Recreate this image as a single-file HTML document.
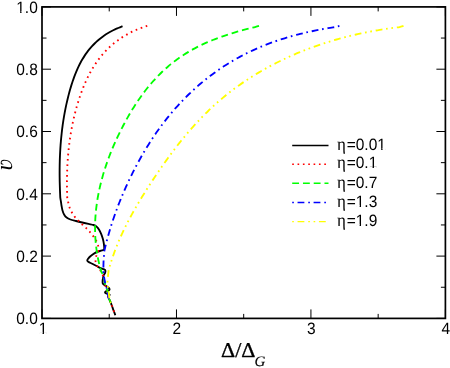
<!DOCTYPE html>
<html><head><meta charset="utf-8"><title>chart</title>
<style>html,body{margin:0;padding:0;background:#fff;width:450px;height:368px;overflow:hidden}</style>
</head><body>
<svg width="450" height="368" viewBox="0 0 450 368" text-rendering="geometricPrecision" style="position:absolute;left:0;top:0;will-change:transform">
<rect x="0" y="0" width="450" height="368" fill="#fff"/>
<path d="M122.50 26.10 C121.90 26.37 120.13 27.19 118.89 27.74 C117.65 28.29 116.30 28.80 115.04 29.39 C113.77 29.97 112.53 30.59 111.31 31.24 C110.10 31.89 108.90 32.57 107.73 33.29 C106.56 34.00 105.41 34.75 104.29 35.52 C103.17 36.29 102.07 37.10 101.00 37.93 C99.93 38.76 98.88 39.62 97.86 40.51 C96.84 41.40 95.85 42.31 94.89 43.25 C93.92 44.19 92.98 45.15 92.08 46.14 C91.17 47.13 90.29 48.14 89.44 49.17 C88.59 50.20 87.77 51.26 86.97 52.34 C86.18 53.41 85.42 54.51 84.69 55.62 C83.95 56.74 83.24 57.88 82.56 59.03 C81.87 60.18 81.22 61.35 80.58 62.53 C79.95 63.71 79.34 64.91 78.75 66.12 C78.17 67.34 77.60 68.56 77.06 69.80 C76.51 71.04 75.99 72.29 75.48 73.55 C74.98 74.81 74.49 76.08 74.03 77.36 C73.56 78.64 73.11 79.92 72.67 81.22 C72.24 82.51 71.82 83.81 71.41 85.12 C71.01 86.42 70.62 87.73 70.24 89.04 C69.86 90.36 69.49 91.67 69.14 92.99 C68.78 94.31 68.44 95.63 68.11 96.95 C67.78 98.27 67.46 99.60 67.15 100.92 C66.84 102.25 66.54 103.57 66.25 104.90 C65.96 106.23 65.69 107.56 65.42 108.89 C65.15 110.23 64.90 111.56 64.65 112.90 C64.40 114.23 64.17 115.57 63.94 116.91 C63.72 118.24 63.50 119.58 63.29 120.93 C63.09 122.27 62.89 123.61 62.70 124.95 C62.52 126.29 62.34 127.64 62.17 128.98 C62.00 130.33 61.84 131.68 61.69 133.02 C61.54 134.37 61.40 135.72 61.27 137.07 C61.14 138.42 61.01 139.77 60.90 141.12 C60.78 142.47 60.67 143.82 60.57 145.17 C60.48 146.52 60.39 147.87 60.30 149.23 C60.22 150.58 60.15 151.93 60.08 153.29 C60.01 154.64 59.95 156.00 59.90 157.35 C59.85 158.70 59.80 160.06 59.77 161.41 C59.73 162.77 59.70 164.12 59.68 165.48 C59.65 166.83 59.64 168.19 59.63 169.54 C59.62 170.90 59.61 172.25 59.62 173.61 C59.62 174.96 59.63 176.32 59.65 177.67 C59.66 179.03 59.69 180.38 59.71 181.73 C59.74 183.09 59.78 184.44 59.82 185.79 C59.86 187.15 59.90 188.50 59.95 189.85 C60.00 191.20 60.06 192.55 60.12 193.90 C60.18 195.25 60.18 196.60 60.32 197.95 C60.47 199.30 60.79 200.66 61.00 202.00 C61.21 203.34 61.35 204.60 61.60 206.00 C61.85 207.40 62.08 208.98 62.50 210.40 C62.92 211.82 63.42 213.30 64.10 214.50 C64.78 215.70 65.55 216.77 66.60 217.60 C67.65 218.43 68.83 218.93 70.40 219.50 C71.97 220.07 74.03 220.50 76.00 221.00 C77.97 221.50 80.17 222.02 82.25 222.50 C84.33 222.98 86.62 223.48 88.50 223.90 C90.38 224.32 92.15 224.55 93.50 225.00 C94.85 225.45 95.67 225.81 96.60 226.60 C97.53 227.39 98.32 228.50 99.10 229.75 C99.88 231.00 100.62 232.54 101.25 234.10 C101.88 235.66 102.46 237.43 102.90 239.10 C103.34 240.77 103.68 242.53 103.90 244.10 C104.12 245.67 104.25 247.52 104.25 248.50 C104.25 249.48 103.96 249.75 103.90 250.00 C103.21 250.17 101.28 250.48 99.75 251.00 C98.22 251.52 96.31 252.22 94.75 253.10 C93.19 253.97 91.54 255.27 90.40 256.25 C89.26 257.23 88.43 258.27 87.90 259.00 C87.38 259.73 87.15 260.12 87.25 260.60 C87.35 261.08 87.67 261.38 88.50 261.90 C89.33 262.42 90.90 263.07 92.25 263.75 C93.60 264.43 95.24 265.27 96.60 266.00 C97.96 266.73 99.15 267.53 100.40 268.10 C101.65 268.67 103.27 268.98 104.10 269.40 C104.93 269.82 105.25 269.98 105.40 270.60 C105.55 271.22 105.28 272.37 105.00 273.10 C104.72 273.83 104.10 274.06 103.75 275.00 C103.40 275.94 103.09 277.67 102.90 278.75 C102.71 279.83 102.60 280.67 102.60 281.50 C102.60 282.33 102.46 283.07 102.90 283.75 C103.34 284.43 104.33 284.98 105.25 285.60 C106.17 286.23 107.68 286.87 108.40 287.50 C109.12 288.13 109.60 288.88 109.60 289.40 C109.60 289.92 109.02 290.29 108.40 290.60 C107.78 290.91 106.47 290.93 105.90 291.25 C105.33 291.57 104.80 292.08 105.00 292.50 C105.20 292.92 106.33 293.38 107.10 293.75 C107.87 294.12 109.28 294.44 109.60 294.75 C109.92 295.06 109.22 295.24 109.00 295.60 C108.78 295.96 108.20 296.17 108.30 296.90 C108.40 297.63 109.17 298.97 109.60 300.00 C110.03 301.03 110.48 302.06 110.90 303.10 C111.32 304.14 111.68 305.10 112.10 306.25 C112.52 307.40 112.98 308.86 113.40 310.00 C113.82 311.14 114.29 312.23 114.60 313.10 C114.91 313.98 115.14 314.89 115.25 315.25" fill="none" stroke="#000" stroke-width="1.85" stroke-linejoin="round"/>
<path d="M147.25 25.75 C146.65 25.99 144.92 26.73 143.67 27.19 C142.43 27.65 141.05 28.05 139.77 28.52 C138.48 28.99 137.21 29.49 135.95 30.02 C134.69 30.55 133.45 31.10 132.23 31.69 C131.00 32.27 129.79 32.88 128.60 33.51 C127.41 34.15 126.23 34.81 125.07 35.50 C123.91 36.18 122.77 36.89 121.65 37.63 C120.53 38.36 119.43 39.12 118.34 39.91 C117.26 40.69 116.19 41.50 115.15 42.32 C114.10 43.15 113.07 44.00 112.07 44.87 C111.06 45.74 110.07 46.63 109.11 47.55 C108.14 48.46 107.20 49.39 106.28 50.34 C105.36 51.30 104.46 52.27 103.58 53.26 C102.70 54.25 101.84 55.25 101.01 56.28 C100.18 57.30 99.37 58.35 98.58 59.41 C97.79 60.46 97.02 61.54 96.27 62.63 C95.52 63.72 94.79 64.82 94.09 65.94 C93.38 67.06 92.69 68.19 92.02 69.34 C91.35 70.48 90.70 71.64 90.07 72.81 C89.44 73.98 88.82 75.17 88.22 76.36 C87.63 77.55 87.05 78.75 86.49 79.97 C85.92 81.18 85.38 82.40 84.85 83.63 C84.31 84.86 83.80 86.10 83.30 87.34 C82.80 88.59 82.31 89.84 81.84 91.10 C81.37 92.36 80.92 93.62 80.47 94.89 C80.03 96.16 79.60 97.44 79.18 98.72 C78.76 100.00 78.36 101.28 77.97 102.56 C77.57 103.85 77.19 105.14 76.82 106.43 C76.46 107.72 76.10 109.01 75.75 110.31 C75.41 111.61 75.07 112.90 74.75 114.21 C74.43 115.51 74.11 116.81 73.81 118.12 C73.51 119.42 73.22 120.73 72.94 122.04 C72.66 123.35 72.40 124.67 72.14 125.98 C71.88 127.29 71.64 128.61 71.40 129.93 C71.16 131.25 70.94 132.57 70.72 133.89 C70.51 135.21 70.30 136.53 70.10 137.86 C69.91 139.18 69.72 140.51 69.55 141.83 C69.37 143.16 69.20 144.49 69.05 145.82 C68.89 147.15 68.74 148.48 68.61 149.81 C68.47 151.14 68.34 152.47 68.22 153.80 C68.10 155.13 67.99 156.46 67.89 157.80 C67.78 159.13 67.69 160.46 67.61 161.80 C67.52 163.13 67.45 164.47 67.38 165.80 C67.31 167.13 67.25 168.47 67.20 169.80 C67.15 171.14 67.11 172.47 67.07 173.80 C67.04 175.14 67.01 176.47 66.99 177.81 C66.97 179.14 66.96 180.47 66.96 181.80 C66.95 183.13 66.96 184.47 66.97 185.80 C66.98 187.13 67.00 188.46 67.02 189.78 C67.04 191.11 67.08 192.44 67.12 193.77 C67.15 195.09 67.09 196.41 67.25 197.74 C67.42 199.07 67.76 200.24 68.10 201.75 C68.44 203.26 68.73 205.12 69.30 206.80 C69.87 208.48 70.67 210.23 71.50 211.80 C72.33 213.37 73.18 214.82 74.25 216.20 C75.32 217.58 76.68 218.82 77.90 220.10 C79.12 221.38 80.32 222.67 81.60 223.90 C82.88 225.13 84.30 226.25 85.60 227.50 C86.90 228.75 88.18 230.05 89.40 231.40 C90.62 232.75 91.84 234.17 92.90 235.60 C93.96 237.03 94.92 238.47 95.75 240.00 C96.58 241.53 97.44 243.12 97.90 244.75 C98.36 246.38 98.72 248.04 98.50 249.75 C98.28 251.46 97.12 253.29 96.60 255.00 C96.08 256.71 95.33 258.23 95.40 260.00 C95.47 261.77 96.28 264.03 97.00 265.60 C97.72 267.17 98.83 267.93 99.75 269.40 C100.67 270.87 101.84 272.80 102.50 274.40 C103.16 276.00 103.28 277.33 103.70 279.00 C104.12 280.67 104.45 282.57 105.00 284.40 C105.55 286.23 106.45 287.98 107.00 290.00 C107.55 292.02 107.87 294.83 108.30 296.50 C108.73 298.17 109.17 298.90 109.60 300.00 C110.03 301.10 110.48 302.06 110.90 303.10 C111.32 304.14 111.68 305.10 112.10 306.25 C112.52 307.40 112.98 308.86 113.40 310.00 C113.82 311.14 114.29 312.23 114.60 313.10 C114.91 313.98 115.14 314.89 115.25 315.25" fill="none" stroke="#f00" stroke-width="1.85" stroke-linejoin="round" stroke-dasharray="1.657 3.689" stroke-dashoffset="0.00"/>
<path d="M259.00 25.90 C258.35 26.09 256.41 26.71 255.12 27.06 C253.83 27.40 252.57 27.67 251.28 27.98 C250.00 28.30 248.72 28.62 247.43 28.95 C246.14 29.28 244.85 29.62 243.56 29.96 C242.27 30.30 240.98 30.65 239.69 31.01 C238.40 31.37 237.10 31.74 235.81 32.12 C234.52 32.49 233.23 32.88 231.93 33.27 C230.64 33.67 229.35 34.07 228.06 34.49 C226.78 34.90 225.49 35.33 224.21 35.76 C222.92 36.20 221.64 36.64 220.36 37.10 C219.09 37.56 217.81 38.03 216.54 38.51 C215.27 38.99 214.01 39.48 212.75 39.99 C211.49 40.49 210.23 41.01 208.98 41.54 C207.74 42.07 206.49 42.62 205.26 43.18 C204.02 43.73 202.79 44.31 201.57 44.89 C200.34 45.48 199.13 46.08 197.92 46.69 C196.72 47.30 195.52 47.93 194.33 48.57 C193.14 49.21 191.96 49.87 190.78 50.54 C189.61 51.21 188.45 51.89 187.30 52.59 C186.15 53.29 185.01 54.00 183.88 54.72 C182.75 55.45 181.63 56.19 180.52 56.94 C179.41 57.70 178.32 58.47 177.23 59.25 C176.15 60.03 175.08 60.83 174.02 61.64 C172.96 62.45 171.92 63.28 170.89 64.12 C169.86 64.96 168.84 65.81 167.83 66.68 C166.83 67.54 165.83 68.42 164.85 69.32 C163.87 70.21 162.90 71.11 161.95 72.03 C160.99 72.95 160.04 73.88 159.11 74.82 C158.18 75.77 157.26 76.72 156.35 77.69 C155.44 78.65 154.54 79.63 153.65 80.62 C152.77 81.61 151.89 82.61 151.03 83.62 C150.16 84.63 149.31 85.65 148.47 86.68 C147.62 87.71 146.79 88.75 145.97 89.80 C145.15 90.85 144.34 91.91 143.54 92.98 C142.74 94.04 141.95 95.12 141.17 96.21 C140.39 97.30 139.62 98.39 138.86 99.49 C138.09 100.60 137.34 101.71 136.60 102.83 C135.86 103.95 135.13 105.08 134.41 106.21 C133.68 107.34 132.97 108.49 132.26 109.63 C131.56 110.78 130.86 111.94 130.18 113.10 C129.49 114.26 128.81 115.43 128.14 116.60 C127.47 117.77 126.81 118.95 126.16 120.14 C125.50 121.32 124.86 122.51 124.22 123.71 C123.58 124.90 122.95 126.10 122.33 127.31 C121.71 128.51 121.09 129.72 120.49 130.93 C119.88 132.14 119.28 133.36 118.69 134.58 C118.10 135.80 117.52 137.03 116.95 138.26 C116.37 139.49 115.81 140.72 115.25 141.96 C114.70 143.20 114.15 144.44 113.62 145.68 C113.08 146.93 112.55 148.18 112.03 149.43 C111.51 150.68 111.01 151.94 110.51 153.20 C110.01 154.46 109.52 155.72 109.04 156.98 C108.56 158.25 108.09 159.52 107.64 160.79 C107.18 162.06 106.73 163.34 106.30 164.61 C105.86 165.89 105.44 167.17 105.02 168.46 C104.61 169.74 104.21 171.02 103.81 172.31 C103.42 173.60 103.04 174.89 102.68 176.19 C102.31 177.48 101.95 178.78 101.61 180.08 C101.27 181.37 100.93 182.68 100.61 183.98 C100.30 185.28 99.99 186.59 99.70 187.89 C99.40 189.20 99.12 190.51 98.85 191.82 C98.59 193.13 98.33 194.44 98.09 195.76 C97.85 197.07 97.62 198.39 97.41 199.70 C97.20 201.02 97.00 202.34 96.81 203.66 C96.63 204.98 96.45 206.30 96.30 207.62 C96.14 208.95 96.00 210.27 95.87 211.60 C95.74 212.92 95.63 214.25 95.53 215.57 C95.43 216.90 95.35 218.23 95.28 219.56 C95.22 220.88 95.17 222.21 95.13 223.54 C95.09 224.87 95.07 226.20 95.07 227.53 C95.06 228.86 95.08 230.20 95.10 231.53 C95.13 232.86 95.18 234.19 95.24 235.52 C95.30 236.85 95.38 238.18 95.47 239.52 C95.57 240.85 95.68 242.18 95.81 243.51 C95.94 244.84 96.09 246.17 96.25 247.50 C96.41 248.83 96.60 250.16 96.80 251.49 C97.00 252.82 97.22 254.15 97.45 255.48 C97.69 256.81 97.94 258.14 98.22 259.47 C98.49 260.79 98.78 262.12 99.09 263.44 C99.40 264.77 99.73 266.09 100.08 267.42 C100.43 268.74 100.72 270.12 101.19 271.38 C101.66 272.65 102.20 272.73 102.90 275.00 C103.60 277.27 104.57 282.08 105.40 285.00 C106.23 287.92 107.42 290.58 107.90 292.50 C108.38 294.42 108.02 295.25 108.30 296.50 C108.58 297.75 109.17 298.90 109.60 300.00 C110.03 301.10 110.68 302.58 110.90 303.10" fill="none" stroke="#0f0" stroke-width="1.85" stroke-linejoin="round" stroke-dasharray="6.857 3.899" stroke-dashoffset="0.00"/>
<path d="M339.40 25.90 C338.76 26.08 336.86 26.71 335.57 26.99 C334.27 27.27 332.94 27.38 331.62 27.59 C330.31 27.79 329.00 28.01 327.68 28.23 C326.37 28.45 325.05 28.68 323.74 28.91 C322.42 29.15 321.11 29.39 319.79 29.64 C318.48 29.89 317.17 30.14 315.85 30.41 C314.54 30.67 313.23 30.94 311.92 31.22 C310.61 31.50 309.30 31.79 307.99 32.08 C306.68 32.38 305.37 32.68 304.06 32.99 C302.76 33.30 301.45 33.62 300.15 33.95 C298.85 34.27 297.55 34.61 296.25 34.95 C294.95 35.29 293.65 35.65 292.36 36.01 C291.07 36.37 289.78 36.73 288.49 37.11 C287.20 37.49 285.91 37.88 284.63 38.27 C283.34 38.67 282.06 39.07 280.79 39.48 C279.51 39.90 278.24 40.32 276.97 40.75 C275.70 41.18 274.43 41.62 273.17 42.07 C271.90 42.52 270.64 42.98 269.39 43.45 C268.13 43.92 266.88 44.40 265.64 44.88 C264.39 45.37 263.15 45.87 261.91 46.38 C260.67 46.89 259.44 47.40 258.21 47.93 C256.98 48.46 255.76 49.00 254.54 49.55 C253.32 50.09 252.11 50.65 250.90 51.22 C249.69 51.79 248.49 52.37 247.29 52.96 C246.10 53.55 244.91 54.15 243.72 54.76 C242.54 55.37 241.36 55.99 240.19 56.62 C239.01 57.26 237.85 57.90 236.68 58.55 C235.52 59.20 234.37 59.86 233.22 60.54 C232.07 61.21 230.93 61.89 229.79 62.58 C228.66 63.28 227.53 63.98 226.40 64.69 C225.28 65.40 224.16 66.12 223.05 66.85 C221.94 67.59 220.83 68.33 219.73 69.08 C218.64 69.83 217.55 70.59 216.46 71.36 C215.38 72.13 214.30 72.90 213.23 73.69 C212.15 74.48 211.09 75.28 210.03 76.08 C208.97 76.89 207.92 77.70 206.88 78.53 C205.83 79.35 204.80 80.18 203.76 81.02 C202.73 81.87 201.71 82.72 200.69 83.58 C199.68 84.43 198.67 85.30 197.67 86.18 C196.67 87.05 195.67 87.94 194.68 88.83 C193.70 89.72 192.72 90.62 191.74 91.53 C190.77 92.44 189.81 93.36 188.85 94.28 C187.89 95.21 186.94 96.14 186.00 97.08 C185.06 98.02 184.12 98.97 183.19 99.93 C182.27 100.89 181.35 101.85 180.43 102.82 C179.52 103.79 178.62 104.77 177.72 105.76 C176.83 106.75 175.94 107.74 175.06 108.74 C174.18 109.75 173.31 110.76 172.44 111.77 C171.58 112.79 170.72 113.81 169.87 114.84 C169.02 115.87 168.18 116.91 167.35 117.95 C166.51 118.99 165.69 120.04 164.87 121.10 C164.05 122.16 163.24 123.22 162.44 124.29 C161.63 125.36 160.84 126.43 160.05 127.51 C159.26 128.59 158.48 129.68 157.71 130.77 C156.93 131.86 156.17 132.96 155.41 134.06 C154.65 135.17 153.90 136.28 153.15 137.39 C152.41 138.51 151.67 139.63 150.95 140.75 C150.22 141.88 149.49 143.00 148.78 144.14 C148.06 145.27 147.36 146.41 146.66 147.56 C145.96 148.70 145.26 149.85 144.58 151.00 C143.89 152.16 143.21 153.31 142.54 154.48 C141.87 155.64 141.20 156.80 140.54 157.97 C139.88 159.14 139.23 160.32 138.59 161.50 C137.94 162.67 137.31 163.86 136.68 165.04 C136.05 166.23 135.42 167.41 134.80 168.61 C134.19 169.80 133.58 170.99 132.97 172.19 C132.37 173.39 131.77 174.59 131.18 175.80 C130.59 177.00 130.01 178.21 129.43 179.42 C128.85 180.63 128.28 181.84 127.72 183.06 C127.16 184.27 126.60 185.49 126.05 186.71 C125.50 187.93 124.96 189.15 124.42 190.38 C123.88 191.60 123.35 192.83 122.83 194.06 C122.31 195.29 121.79 196.53 121.28 197.76 C120.77 199.00 120.27 200.23 119.78 201.47 C119.28 202.71 118.80 203.96 118.32 205.20 C117.84 206.45 117.36 207.69 116.90 208.94 C116.43 210.19 115.97 211.44 115.52 212.69 C115.07 213.95 114.63 215.20 114.20 216.46 C113.76 217.72 113.33 218.98 112.91 220.24 C112.49 221.50 112.08 222.76 111.67 224.03 C111.27 225.29 110.87 226.56 110.48 227.83 C110.09 229.10 109.71 230.37 109.34 231.65 C108.97 232.92 108.60 234.19 108.25 235.47 C107.89 236.75 107.54 238.02 107.20 239.30 C106.86 240.58 106.53 241.87 106.20 243.15 C105.88 244.43 105.56 245.72 105.25 247.00 C104.95 248.29 104.55 249.54 104.36 250.87 C104.16 252.20 104.24 253.06 104.10 255.00 C103.96 256.94 103.60 259.79 103.50 262.50 C103.40 265.21 103.40 268.75 103.50 271.25 C103.60 273.75 103.78 275.42 104.10 277.50 C104.42 279.58 104.88 281.67 105.40 283.75 C105.93 285.83 106.77 287.88 107.25 290.00 C107.73 292.12 107.91 294.83 108.30 296.50 C108.69 298.17 109.17 298.90 109.60 300.00 C110.03 301.10 110.68 302.58 110.90 303.10" fill="none" stroke="#00f" stroke-width="1.85" stroke-linejoin="round" stroke-dasharray="6.816 3.876 1.657 3.689" stroke-dashoffset="10.69"/>
<path d="M403.50 26.00 C402.85 26.18 400.89 26.82 399.57 27.08 C398.26 27.34 396.93 27.39 395.61 27.56 C394.29 27.72 392.97 27.89 391.64 28.07 C390.32 28.25 389.00 28.43 387.68 28.63 C386.36 28.82 385.04 29.01 383.72 29.22 C382.40 29.42 381.07 29.63 379.75 29.85 C378.43 30.07 377.11 30.29 375.80 30.53 C374.48 30.76 373.16 31.00 371.84 31.24 C370.52 31.48 369.21 31.74 367.89 31.99 C366.57 32.25 365.26 32.52 363.95 32.79 C362.63 33.06 361.32 33.34 360.01 33.63 C358.70 33.91 357.38 34.20 356.07 34.50 C354.77 34.80 353.46 35.11 352.15 35.42 C350.84 35.73 349.54 36.05 348.24 36.38 C346.93 36.71 345.63 37.04 344.33 37.38 C343.03 37.72 341.73 38.07 340.43 38.43 C339.14 38.78 337.84 39.14 336.55 39.51 C335.26 39.88 333.97 40.26 332.68 40.64 C331.39 41.02 330.10 41.41 328.82 41.81 C327.53 42.21 326.25 42.61 324.97 43.02 C323.69 43.43 322.41 43.85 321.14 44.28 C319.86 44.70 318.59 45.14 317.32 45.58 C316.05 46.02 314.79 46.46 313.52 46.92 C312.26 47.37 311.00 47.83 309.74 48.30 C308.48 48.77 307.23 49.25 305.97 49.73 C304.72 50.22 303.47 50.71 302.23 51.20 C300.98 51.70 299.74 52.21 298.50 52.72 C297.26 53.23 296.02 53.75 294.79 54.28 C293.56 54.81 292.33 55.34 291.10 55.89 C289.88 56.43 288.66 56.98 287.44 57.54 C286.22 58.09 285.01 58.66 283.80 59.23 C282.59 59.80 281.38 60.38 280.18 60.97 C278.98 61.56 277.78 62.15 276.58 62.75 C275.39 63.36 274.20 63.97 273.02 64.58 C271.83 65.20 270.65 65.83 269.47 66.46 C268.30 67.09 267.12 67.73 265.96 68.38 C264.79 69.03 263.63 69.68 262.47 70.35 C261.31 71.01 260.16 71.68 259.01 72.36 C257.86 73.04 256.72 73.72 255.58 74.42 C254.44 75.11 253.31 75.81 252.18 76.52 C251.05 77.23 249.93 77.95 248.81 78.67 C247.69 79.40 246.58 80.13 245.47 80.87 C244.36 81.61 243.26 82.36 242.16 83.12 C241.07 83.88 239.98 84.64 238.89 85.41 C237.81 86.18 236.73 86.96 235.66 87.75 C234.58 88.54 233.51 89.34 232.45 90.14 C231.39 90.94 230.34 91.76 229.29 92.58 C228.24 93.40 227.19 94.22 226.16 95.06 C225.12 95.89 224.09 96.74 223.07 97.59 C222.04 98.44 221.02 99.30 220.01 100.17 C219.00 101.04 218.00 101.92 217.00 102.80 C216.00 103.68 215.01 104.58 214.02 105.48 C213.04 106.38 212.06 107.28 211.09 108.20 C210.11 109.11 209.15 110.04 208.19 110.97 C207.23 111.90 206.28 112.84 205.33 113.78 C204.38 114.72 203.44 115.68 202.50 116.63 C201.57 117.59 200.64 118.56 199.72 119.53 C198.79 120.50 197.88 121.48 196.97 122.46 C196.06 123.45 195.15 124.44 194.25 125.43 C193.35 126.43 192.46 127.43 191.57 128.44 C190.68 129.45 189.80 130.46 188.92 131.48 C188.04 132.50 187.17 133.52 186.30 134.55 C185.44 135.58 184.57 136.62 183.72 137.66 C182.86 138.70 182.01 139.74 181.17 140.79 C180.32 141.84 179.48 142.89 178.64 143.95 C177.81 145.01 176.98 146.07 176.15 147.14 C175.33 148.21 174.50 149.28 173.69 150.35 C172.87 151.43 172.06 152.51 171.25 153.59 C170.45 154.67 169.65 155.76 168.85 156.85 C168.05 157.94 167.26 159.03 166.47 160.13 C165.68 161.22 164.90 162.32 164.12 163.42 C163.34 164.53 162.56 165.63 161.79 166.74 C161.02 167.85 160.25 168.96 159.49 170.07 C158.73 171.18 157.97 172.29 157.21 173.41 C156.46 174.53 155.71 175.65 154.96 176.77 C154.21 177.89 153.47 179.01 152.73 180.13 C151.99 181.26 151.25 182.38 150.52 183.51 C149.79 184.63 149.06 185.76 148.34 186.89 C147.61 188.02 146.89 189.15 146.17 190.28 C145.46 191.42 144.74 192.55 144.04 193.68 C143.33 194.82 142.63 195.96 141.93 197.10 C141.23 198.24 140.53 199.38 139.85 200.52 C139.16 201.66 138.47 202.81 137.80 203.96 C137.12 205.11 136.45 206.26 135.78 207.41 C135.12 208.56 134.46 209.72 133.80 210.88 C133.15 212.04 132.50 213.20 131.86 214.37 C131.22 215.53 130.59 216.70 129.96 217.87 C129.33 219.05 128.71 220.22 128.10 221.40 C127.49 222.58 126.88 223.76 126.29 224.95 C125.69 226.14 125.10 227.33 124.52 228.52 C123.94 229.72 123.36 230.92 122.80 232.12 C122.23 233.33 121.68 234.53 121.13 235.75 C120.58 236.96 120.04 238.18 119.52 239.40 C118.99 240.62 118.47 241.85 117.96 243.08 C117.45 244.31 116.95 245.55 116.45 246.79 C115.96 248.03 115.48 249.28 115.01 250.53 C114.54 251.79 114.08 253.05 113.63 254.31 C113.18 255.57 112.74 256.84 112.31 258.12 C111.89 259.40 111.47 260.68 111.06 261.97 C110.66 263.26 110.26 264.55 109.88 265.85 C109.50 267.16 109.04 268.46 108.77 269.78 C108.50 271.09 108.46 271.84 108.25 273.75 C108.04 275.66 107.56 278.96 107.50 281.25 C107.44 283.54 107.69 285.54 107.90 287.50 C108.11 289.46 108.47 290.92 108.75 293.00 C109.03 295.08 109.24 298.32 109.60 300.00 C109.96 301.68 110.68 302.58 110.90 303.10" fill="none" stroke="#ff0" stroke-width="1.85" stroke-linejoin="round" stroke-dasharray="6.816 3.876 1.657 3.689 1.657 3.689" stroke-dashoffset="0.00"/>
<path d="M42.00 318.40 v-9.00 M42.00 6.90 v9.00 M109.23 318.40 v-4.50 M109.23 6.90 v4.50 M176.47 318.40 v-9.00 M176.47 6.90 v9.00 M243.70 318.40 v-4.50 M243.70 6.90 v4.50 M310.93 318.40 v-9.00 M310.93 6.90 v9.00 M378.17 318.40 v-4.50 M378.17 6.90 v4.50 M445.40 318.40 v-9.00 M445.40 6.90 v9.00 M42.00 318.40 h9.00 M445.40 318.40 h-9.00 M42.00 287.25 h4.50 M445.40 287.25 h-4.50 M42.00 256.10 h9.00 M445.40 256.10 h-9.00 M42.00 224.95 h4.50 M445.40 224.95 h-4.50 M42.00 193.80 h9.00 M445.40 193.80 h-9.00 M42.00 162.65 h4.50 M445.40 162.65 h-4.50 M42.00 131.50 h9.00 M445.40 131.50 h-9.00 M42.00 100.35 h4.50 M445.40 100.35 h-4.50 M42.00 69.20 h9.00 M445.40 69.20 h-9.00 M42.00 38.05 h4.50 M445.40 38.05 h-4.50 M42.00 6.90 h9.00 M445.40 6.90 h-9.00" stroke="#000" stroke-width="1" fill="none"/>
<rect x="42.00" y="6.90" width="403.40" height="311.50" fill="none" stroke="#000" stroke-width="1.7"/>
<path d="M292.2 145.50 H328.5" fill="none" stroke="#000" stroke-width="1.45"/>
<path d="M292.2 164.20 H328.5" fill="none" stroke="#f00" stroke-width="1.45" stroke-dasharray="1.657 3.689" stroke-dashoffset="0.00"/>
<path d="M292.2 183.30 H328.5" fill="none" stroke="#0f0" stroke-width="1.45" stroke-dasharray="6.857 3.899" stroke-dashoffset="0.00"/>
<path d="M292.2 202.50 H328.5" fill="none" stroke="#00f" stroke-width="1.45" stroke-dasharray="6.816 3.876 1.657 3.689" stroke-dashoffset="10.69"/>
<path d="M292.2 221.60 H328.5" fill="none" stroke="#ff0" stroke-width="1.45" stroke-dasharray="6.816 3.876 1.657 3.689 1.657 3.689" stroke-dashoffset="16.04"/>
<g font-family="Liberation Sans, sans-serif" font-size="15.5" fill="#000">
<text transform="matrix(1 0 0 1.060 37.8 324.15)" text-anchor="end">0.0</text>
<text transform="matrix(1 0 0 1.060 37.8 261.85)" text-anchor="end">0.2</text>
<text transform="matrix(1 0 0 1.060 37.8 199.55)" text-anchor="end">0.4</text>
<text transform="matrix(1 0 0 1.060 37.8 137.25)" text-anchor="end">0.6</text>
<text transform="matrix(1 0 0 1.060 37.8 74.95)" text-anchor="end">0.8</text>
<text transform="matrix(1 0 0 1.060 37.8 12.65)" text-anchor="end">1.0</text>
<text transform="matrix(1 0 0 1.060 43.00 333.9)" text-anchor="middle">1</text>
<text transform="matrix(1 0 0 1.060 176.77 333.9)" text-anchor="middle">2</text>
<text transform="matrix(1 0 0 1.060 311.23 333.9)" text-anchor="middle">3</text>
<text transform="matrix(1 0 0 1.060 445.70 333.9)" text-anchor="middle">4</text>
<text transform="matrix(1 0 0 1.060 337.0 149.70)"><tspan font-family="Liberation Serif, serif" font-size="17">&#951;</tspan><tspan dx="0.8">=0.01</tspan></text>
<text transform="matrix(1 0 0 1.060 337.0 168.40)"><tspan font-family="Liberation Serif, serif" font-size="17">&#951;</tspan><tspan dx="0.8">=0.1</tspan></text>
<text transform="matrix(1 0 0 1.060 337.0 187.50)"><tspan font-family="Liberation Serif, serif" font-size="17">&#951;</tspan><tspan dx="0.8">=0.7</tspan></text>
<text transform="matrix(1 0 0 1.060 337.0 206.70)"><tspan font-family="Liberation Serif, serif" font-size="17">&#951;</tspan><tspan dx="0.8">=1.3</tspan></text>
<text transform="matrix(1 0 0 1.060 337.0 225.80)"><tspan font-family="Liberation Serif, serif" font-size="17">&#951;</tspan><tspan dx="0.8">=1.9</tspan></text>
</g>
<rect x="17.03" y="10.97" width="3.12" height="2.13" fill="#fff"/>
<rect x="21.52" y="10.97" width="2.95" height="2.13" fill="#fff"/>
<rect x="39.46" y="332.22" width="3.12" height="2.13" fill="#fff"/>
<rect x="43.96" y="332.22" width="2.95" height="2.13" fill="#fff"/>
<rect x="378.06" y="148.02" width="3.12" height="2.13" fill="#fff"/>
<rect x="382.56" y="148.02" width="2.95" height="2.13" fill="#fff"/>
<rect x="369.44" y="166.72" width="3.12" height="2.13" fill="#fff"/>
<rect x="373.94" y="166.72" width="2.95" height="2.13" fill="#fff"/>
<rect x="356.52" y="205.02" width="3.12" height="2.13" fill="#fff"/>
<rect x="361.01" y="205.02" width="2.95" height="2.13" fill="#fff"/>
<rect x="356.52" y="224.12" width="3.12" height="2.13" fill="#fff"/>
<rect x="361.01" y="224.12" width="2.95" height="2.13" fill="#fff"/>
<text transform="matrix(1 0 0 0.96 221.0 357.2)" font-family="Liberation Serif, serif" font-size="22" fill="#000" stroke="#000" stroke-width="0.35">&#916;/&#916;<tspan font-style="italic" font-size="15" dx="-1.0" dy="8.9" stroke-width="0.15">G</tspan></text>
<text transform="translate(12.2 170.6) rotate(-90)" font-family="Liberation Serif, serif" font-style="italic" font-size="24" fill="#000">&#651;</text>
</svg>
</body></html>
